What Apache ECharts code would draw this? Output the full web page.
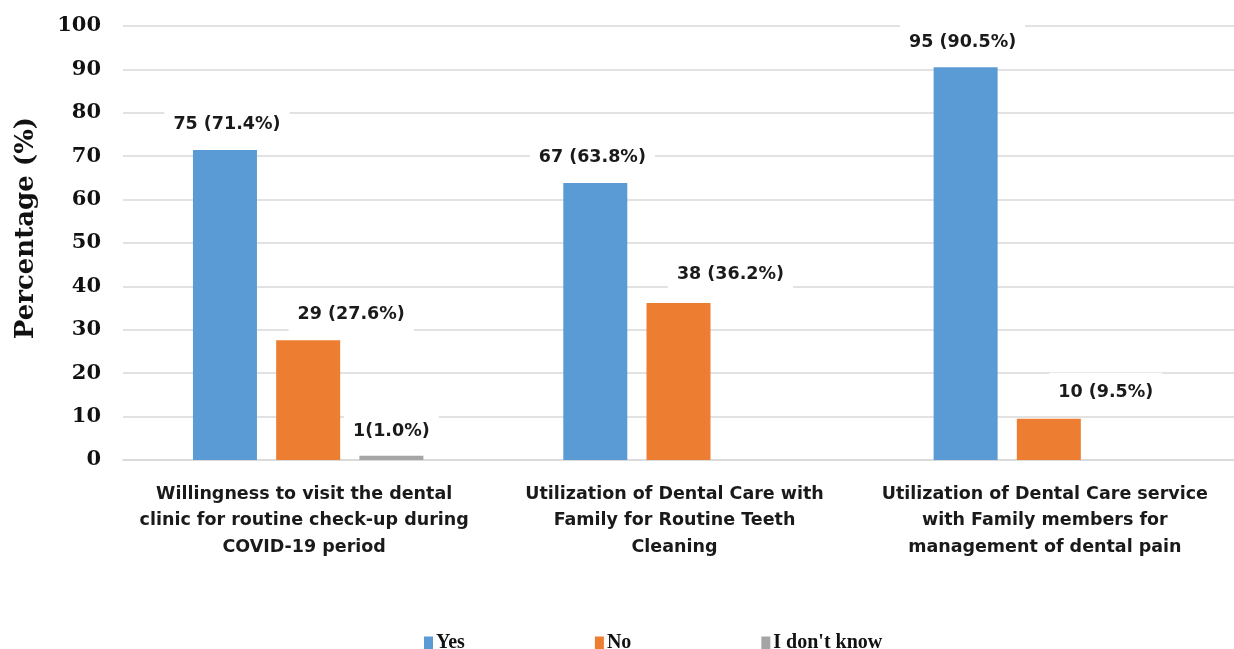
<!DOCTYPE html>
<html>
<head>
<meta charset="utf-8">
<script src="https://cdn.jsdelivr.net/npm/echarts@6/dist/echarts.min.js"></script>
<style>
html,body{margin:0;padding:0;background:#fff;}
#chart{width:1234px;height:649px;}
</style>
</head>
<body>
<div id="chart"></div>
<script>
const categories = [
  'Willingness to visit the dental\nclinic for routine check-up during\nCOVID-19 period',
  'Utilization of Dental Care with\nFamily for Routine Teeth\nCleaning',
  'Utilization of Dental Care service\nwith Family members for\nmanagement of dental pain'
];
const seriesNames = ['Yes', 'No', "I don't know"];
const yesCount = [75, 67, 95];
const yesPct = [71.4, 63.8, 90.5];
const noCount = [29, 38, 10];
const noPct = [27.6, 36.2, 9.5];
const dkCount = [1, null, null];
const dkPct = [1.0, null, null];
const yTicks = { min: 0, max: 100, interval: 10 };

// label placement (style only)
const yesLabelOffset = [[2, -2], [-3, -2], [-3, -1]];
const noLabelOffset = [[43, -2], [52, -4], [57, -2]];
const dkLabelOffset = [[0, 0], [0, 0], [0, 0]];

function buildData(pcts, counts, offsets, sep) {
  return pcts.map((v, i) => ({
    value: v,
    count: counts[i],
    label: {
      offset: offsets[i],
      formatter: v == null ? '' : counts[i] + sep + '(' + v.toFixed(1) + '%)'
    }
  }));
}

const labelStyle = {
  show: true,
  position: 'top',
  distance: 4,
  fontFamily: '"DejaVu Sans", sans-serif',
  fontWeight: 'bold',
  fontSize: 17.5,
  color: '#1a1a1a',
  backgroundColor: '#ffffff',
  padding: [10, 9],
  lineHeight: 20
};

const chart = echarts.init(document.getElementById('chart'), null, { renderer: 'canvas' });
chart.setOption({
  animation: false,
  backgroundColor: '#ffffff',
  color: ['#5B9BD5', '#ED7D31', '#A5A5A5'],
  grid: { left: 123, right: 0, top: 26, bottom: 189, containLabel: false },
  legend: {
    data: seriesNames,
    left: 419,
    top: 628,
    itemWidth: 9,
    itemHeight: 13,
    itemGap: 130,
    icon: 'rect',
    textStyle: {
      fontFamily: '"Liberation Serif", serif',
      fontWeight: 'bold',
      fontSize: 20,
      color: '#111',
      padding: [0, 0, 0, -2]
    }
  },
  xAxis: {
    type: 'category',
    data: categories,
    axisLine: { show: true, lineStyle: { color: '#d9d9d9', width: 1.5 } },
    axisTick: { show: false },
    axisLabel: {
      interval: 0,
      margin: 21,
      padding: [0, 8, 0, 0],
      fontFamily: '"DejaVu Sans", sans-serif',
      fontWeight: 'bold',
      fontSize: 17.5,
      lineHeight: 26.5,
      color: '#1a1a1a'
    }
  },
  yAxis: {
    type: 'value',
    min: yTicks.min,
    max: yTicks.max,
    interval: yTicks.interval,
    name: 'Percentage (%)',
    nameLocation: 'middle',
    nameGap: 84,
    nameTextStyle: {
      fontFamily: '"DejaVu Serif", serif',
      fontWeight: 'bold',
      fontSize: 26,
      color: '#111',
      padding: [0, 0, 0, 30]
    },
    axisLine: { show: false },
    axisTick: { show: false },
    axisLabel: {
      margin: 22,
      fontFamily: '"DejaVu Serif", serif',
      fontWeight: 'bold',
      fontSize: 21,
      color: '#111'
    },
    splitLine: { show: true, lineStyle: { color: '#d9d9d9', width: 1.5 } }
  },
  series: [
    {
      name: seriesNames[0], type: 'bar', barWidth: 64, barGap: '30%',
      data: buildData(yesPct, yesCount, yesLabelOffset, ' '),
      label: labelStyle
    },
    {
      name: seriesNames[1], type: 'bar', barWidth: 64, barGap: '30%',
      data: buildData(noPct, noCount, noLabelOffset, ' '),
      label: labelStyle
    },
    {
      name: seriesNames[2], type: 'bar', barWidth: 64, barGap: '30%',
      data: buildData(dkPct, dkCount, dkLabelOffset, ''),
      label: labelStyle
    }
  ]
});
</script>
</body>
</html>
